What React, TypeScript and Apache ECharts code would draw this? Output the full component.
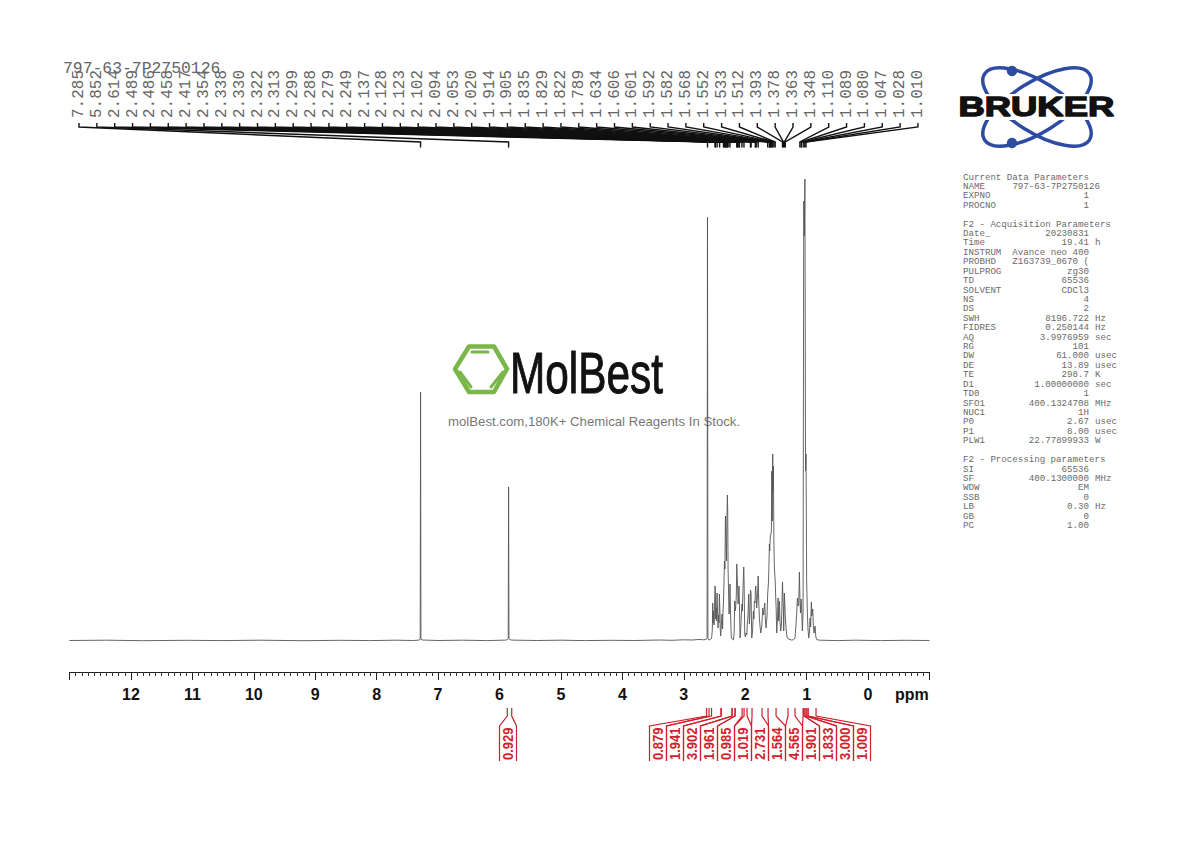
import React, { useEffect, useRef } from "react";
import * as echarts from "echarts";

const sampleName = "797-63-7P2750126";

const baselineLeft: number[][] = [[13, 0.5], [12.4, 0.8], [11.8, 0.3], [11.1, 0.7], [10.5, 0.4], [9.9, 0.8], [9.2, 0.3], [8.6, 0.7], [8.1, 0.4], [7.7, 0.8], [7.4, 0.5]];
const solventPeak: number[][] = [[7.33, 0.8], [7.3, 1.1], [7.291, 2], [7.285, 249], [7.279, 2], [7.26, 1], [7.0, 0.5], [6.6, 0.8], [6.2, 0.4], [5.9, 0.9]];
const olefinPeak: number[][] = [[5.868, 1.5], [5.858, 2.5], [5.852, 154], [5.846, 2.5], [5.835, 1.5], [5.8, 0.9], [5.4, 0.5], [5, 0.8], [4.6, 0.4], [4.2, 0.7], [3.8, 0.5], [3.4, 1], [3.2, 0.7], [3, 1.2], [2.85, 1], [2.75, 1.6], [2.68, 1.2]];
const sharpPeak: number[][] = [[2.64, 1.5], [2.621, 2.5], [2.614, 424], [2.607, 2.5], [2.59, 1]];
const multipletA: number[][] = [[2.583, 1], [2.565, 1.5], [2.556, 2], [2.545, 4], [2.535, 12], [2.529, 38], [2.522, 18], [2.515, 30], [2.507, 16], [2.5, 34], [2.491, 55], [2.486, 50], [2.48, 22], [2.475, 33], [2.468, 20], [2.458, 48], [2.45, 30], [2.442, 13], [2.435, 26], [2.428, 18], [2.42, 47], [2.41, 25], [2.405, 10], [2.399, 5], [2.39, 14], [2.377, 27], [2.368, 12], [2.362, 30], [2.355, 37], [2.345, 60], [2.338, 80], [2.33, 72], [2.322, 125], [2.313, 100], [2.306, 80], [2.299, 118], [2.29, 146], [2.285, 130], [2.279, 73], [2.27, 45], [2.263, 27], [2.255, 38], [2.247, 57], [2.24, 30], [2.23, 10], [2.225, 3], [2.21, 2], [2.192, 1]];
const multipletB: number[][] = [[2.18, 8], [2.171, 40], [2.163, 30], [2.155, 34], [2.145, 45], [2.137, 77], [2.128, 60], [2.123, 52], [2.117, 37], [2.108, 42], [2.102, 55], [2.094, 35], [2.084, 3], [2.075, 10], [2.062, 27], [2.053, 37], [2.046, 30], [2.035, 55], [2.024, 74], [2.018, 60], [2.008, 7], [1.997, 4], [1.986, 8], [1.975, 6], [1.965, 18], [1.955, 25], [1.943, 47], [1.932, 17], [1.922, 30], [1.914, 51], [1.905, 48], [1.894, 3], [1.88, 10], [1.867, 30], [1.858, 22], [1.851, 40], [1.84, 38], [1.835, 50], [1.829, 55], [1.822, 48], [1.813, 33], [1.8, 45], [1.789, 65], [1.78, 40], [1.769, 23], [1.758, 14], [1.747, 8], [1.73, 15], [1.715, 33], [1.7, 26], [1.682, 38], [1.672, 22], [1.661, 13], [1.645, 25]];
const multipletC: number[][] = [[1.634, 47], [1.62, 60], [1.606, 97], [1.601, 90], [1.592, 104], [1.582, 107], [1.574, 110], [1.568, 170], [1.56, 120], [1.552, 187], [1.548, 150], [1.541, 175], [1.533, 100], [1.525, 73], [1.512, 60], [1.503, 43], [1.495, 30], [1.487, 8], [1.475, 22], [1.465, 43], [1.455, 20], [1.444, 40], [1.432, 18], [1.422, 10], [1.41, 16], [1.393, 59], [1.385, 40], [1.378, 30], [1.373, 10], [1.363, 48], [1.357, 40], [1.348, 25], [1.335, 13], [1.32, 4], [1.3, 2], [1.25, 1], [1.216, 1.2]];
const multipletD: number[][] = [[1.19, 3], [1.172, 17], [1.16, 30], [1.15, 43], [1.14, 35], [1.129, 36], [1.118, 69], [1.11, 45], [1.1, 28], [1.089, 42], [1.08, 30], [1.069, 10], [1.058, 30], [1.047, 440], [1.038, 405], [1.028, 462], [1.018, 170], [1.01, 187], [1, 60], [0.988, 28], [0.978, 12], [0.966, 3], [0.955, 8], [0.944, 23], [0.935, 14], [0.923, 39], [0.915, 25], [0.901, 32], [0.89, 14], [0.879, 8], [0.87, 12], [0.863, 15], [0.85, 4], [0.836, 1.5], [0.81, 1]];
const baselineRight: number[][] = [[0.78, 0.8], [0.5, 0.4], [0.2, 0.8], [-0.2, 0.4], [-0.6, 0.7], [-1, 0.5]];

const peakList = ["7.285", "5.852", "2.614", "2.489", "2.486", "2.458", "2.417", "2.354", "2.338", "2.330", "2.322", "2.313", "2.299", "2.288", "2.279", "2.249", "2.137", "2.128", "2.123", "2.102", "2.094", "2.053", "2.020", "1.914", "1.905", "1.835", "1.829", "1.822", "1.789", "1.634", "1.606", "1.601", "1.592", "1.582", "1.568", "1.552", "1.533", "1.512", "1.393", "1.378", "1.363", "1.348", "1.110", "1.089", "1.080", "1.047", "1.028", "1.010"];

const integralLabels = ["0.879", "1.941", "3.902", "1.961", "0.985", "1.019", "2.731", "1.564", "4.565", "1.901", "1.833", "3.000", "1.009"];
const integralRanges: number[][] = [[2.629, 2.589], [2.548, 2.393], [2.393, 2.214], [2.214, 2.165], [2.165, 2.051], [2.019, 1.97], [1.889, 1.726], [1.628, 1.498], [1.303, 1.189], [1.058, 1.042], [1.042, 1.009], [1.009, 0.977], [0.977, 0.847]];
const isolatedIntegralLabel = "0.929";
const isolatedIntegralRange = [5.873, 5.801];

const paramLines: string[][] = [
  ["Current Data Parameters"],
  ["NAME", sampleName, "", "1100"],
  ["EXPNO", "1"],
  ["PROCNO", "1"],
  [],
  ["F2 - Acquisition Parameters"],
  ["Date_", "20230831"],
  ["Time", "19.41", "h"],
  ["INSTRUM", "Avance neo 400"],
  ["PROBHD", "Z163739_0670 ("],
  ["PULPROG", "zg30"],
  ["TD", "65536"],
  ["SOLVENT", "CDCl3"],
  ["NS", "4"],
  ["DS", "2"],
  ["SWH", "8196.722", "Hz"],
  ["FIDRES", "0.250144", "Hz"],
  ["AQ", "3.9976959", "sec"],
  ["RG", "101"],
  ["DW", "61.000", "usec"],
  ["DE", "13.89", "usec"],
  ["TE", "298.7", "K"],
  ["D1", "1.00000000", "sec"],
  ["TD0", "1"],
  ["SFO1", "400.1324708", "MHz"],
  ["NUC1", "1H"],
  ["P0", "2.67", "usec"],
  ["P1", "8.00", "usec"],
  ["PLW1", "22.77899933", "W"],
  [],
  ["F2 - Processing parameters"],
  ["SI", "65536"],
  ["SF", "400.1300000", "MHz"],
  ["WDW", "EM"],
  ["SSB", "0"],
  ["LB", "0.30", "Hz"],
  ["GB", "0"],
  ["PC", "1.00"],
];

const MONO = "'Liberation Mono', monospace";
const SANS = "'Liberation Sans', Arial, sans-serif";
const RED = "#cf1f2a";
const GRID_TOP = 179;
const GRID_BOTTOM = 641;

function paramGraphics() {
  const out: any[] = [];
  const grey = "#6a6a6a";
  const base = { fontFamily: MONO, fontSize: 9.13, fill: grey, textVerticalAlign: "middle", verticalAlign: "middle" };
  paramLines.forEach((row, i) => {
    if (!row.length) return;
    const y = 177 + i * 9.42;
    out.push({ type: "text", x: 963, y, silent: true, style: { ...base, text: row[0], textAlign: "left", align: "left" } });
    if (row[1]) {
      const right = row[3] ? Number(row[3]) : 1089;
      out.push({ type: "text", x: right, y, silent: true, style: { ...base, text: row[1], textAlign: "right", align: "right" } });
    }
    if (row[2]) {
      out.push({ type: "text", x: 1095, y, silent: true, style: { ...base, text: row[2], textAlign: "left", align: "left" } });
    }
  });
  return out;
}

function logoGraphics() {
  const blue = "#2d4ba0";
  const green = "#7ab648";
  return [
    { type: "ellipse", x: 1037, y: 107, rotation: -0.56, silent: true, shape: { cx: 0, cy: 0, rx: 62, ry: 25 }, style: { fill: "none", stroke: blue, lineWidth: 3.5 } },
    { type: "ellipse", x: 1037, y: 107, rotation: 0.56, silent: true, shape: { cx: 0, cy: 0, rx: 62, ry: 25 }, style: { fill: "none", stroke: blue, lineWidth: 3.5 } },
    { type: "rect", silent: true, shape: { x: 955, y: 94, width: 163, height: 26 }, style: { fill: "#fff" } },
    { type: "circle", silent: true, shape: { cx: 1012, cy: 71, r: 5.2 }, style: { fill: blue } },
    { type: "circle", silent: true, shape: { cx: 1012, cy: 143, r: 5.2 }, style: { fill: blue } },
    { type: "text", x: 958.5, y: 107, scaleX: 1.3, scaleY: 1, silent: true, style: { text: "BRUKER", fontFamily: SANS, fontWeight: "bold", fontSize: 28, fill: "#111", stroke: "#111", lineWidth: 1.4, textAlign: "left", align: "left", textVerticalAlign: "middle", verticalAlign: "middle" } },
    { type: "polygon", silent: true, shape: { points: [[455, 369], [469, 346.5], [494, 346.5], [507, 369], [494, 392], [469, 392]] }, style: { fill: "none", stroke: green, lineWidth: 4.5, lineJoin: "round" } },
    { type: "line", silent: true, shape: { x1: 472, y1: 352, x2: 488, y2: 352 }, style: { stroke: green, lineWidth: 3, lineCap: "round" } },
    { type: "line", silent: true, shape: { x1: 460, y1: 372, x2: 471, y2: 387 }, style: { stroke: green, lineWidth: 3, lineCap: "round" } },
    { type: "line", silent: true, shape: { x1: 491, y1: 387, x2: 503, y2: 372 }, style: { stroke: green, lineWidth: 3, lineCap: "round" } },
    { type: "text", x: 510, y: 373, scaleX: 0.73, scaleY: 1, silent: true, style: { text: "MolBest", fontFamily: SANS, fontSize: 58, fill: "#111", stroke: "#111", lineWidth: 1, textAlign: "left", align: "left", textVerticalAlign: "middle", verticalAlign: "middle" } },
    { type: "text", x: 448, y: 421, silent: true, style: { text: "molBest.com,180K+ Chemical Reagents In Stock.", fontFamily: SANS, fontSize: 13.2, fill: "#777", textAlign: "left", align: "left", textVerticalAlign: "middle", verticalAlign: "middle" } },
    { type: "text", x: 895, y: 694, silent: true, style: { text: "ppm", fontFamily: SANS, fontWeight: "bold", fontSize: 16, fill: "#111", textAlign: "left", align: "left", textVerticalAlign: "middle", verticalAlign: "middle" } },
    { type: "text", x: 63, y: 68, silent: true, style: { text: sampleName, fontFamily: MONO, fontSize: 16.4, fill: "#666", textAlign: "left", align: "left", textVerticalAlign: "middle", verticalAlign: "middle" } },
  ];
}

function renderPeakLabel(params: any, api: any) {
  const i = params.dataIndex;
  const px = api.coord([api.value(0), 0])[0];
  const lx = 79 + i * 17.85;
  return {
    type: "group",
    children: [
      { type: "polyline", silent: true, shape: { points: [[lx, 123], [lx, 127], [px, 142], [px, 147.5]] }, style: { fill: "none", stroke: "#111", lineWidth: 1.4 } },
      { type: "text", x: lx, y: 118, rotation: Math.PI / 2, silent: true, style: { text: peakList[i], fontFamily: MONO, fontSize: 16, fill: "#666", textAlign: "left", align: "left", textVerticalAlign: "middle", verticalAlign: "middle" } },
    ],
  };
}

function integralShape(a: number, b: number, center: number, label: string) {
  const left = center - 8.5;
  const right = center + 8.5;
  const st = { fill: "none", stroke: RED, lineWidth: 1.2 };
  return {
    type: "group",
    children: [
      { type: "polyline", silent: true, shape: { points: [[a, 708], [a, 716], [left, 726], [left, 761]] }, style: st },
      { type: "polyline", silent: true, shape: { points: [[b, 708], [b, 716], [right, 726], [right, 761]] }, style: st },
      { type: "text", x: center, y: 760, rotation: Math.PI / 2, scaleX: 0.93, silent: true, style: { text: label, fontFamily: SANS, fontWeight: "bold", fontSize: 14, fill: RED, textAlign: "left", align: "left", textVerticalAlign: "middle", verticalAlign: "middle" } },
    ],
  };
}

function renderIntegral(params: any, api: any) {
  const i = params.dataIndex;
  const a = api.coord([api.value(0), 0])[0];
  const b = api.coord([api.value(1), 0])[0];
  return integralShape(a, b, 658 + i * 17, integralLabels[i]);
}

function renderIsolated(_params: any, api: any) {
  const a = api.coord([api.value(0), 0])[0];
  const b = api.coord([api.value(1), 0])[0];
  return integralShape(a, b, 508, isolatedIntegralLabel);
}

export default function App() {
  const ref = useRef<HTMLDivElement>(null);
  useEffect(() => {
    if (!ref.current) return;
    const chart = echarts.init(ref.current, undefined, { renderer: "svg" });
    const spectrum = [...baselineLeft, ...solventPeak, ...olefinPeak, ...sharpPeak, ...multipletA, ...multipletB, ...multipletC, ...multipletD, ...baselineRight];
    chart.setOption({
      animation: false,
      backgroundColor: "#fff",
      grid: { left: 69.5, width: 860, top: GRID_TOP, height: GRID_BOTTOM - GRID_TOP },
      xAxis: {
        type: "value",
        inverse: true,
        min: -1,
        max: 13,
        interval: 1,
        offset: 31,
        axisLine: { show: true, onZero: false, lineStyle: { color: "#222", width: 1 } },
        axisTick: { show: true, length: 8, inside: false, lineStyle: { color: "#222", width: 1 } },
        minorTick: { show: true, splitNumber: 10, length: 4, lineStyle: { color: "#333", width: 1 } },
        splitLine: { show: false },
        axisLabel: {
          margin: 14,
          fontFamily: SANS,
          fontWeight: "bold",
          fontSize: 16,
          color: "#111",
          formatter: (v: number) => (v < 0 || v > 12 ? "" : String(v)),
        },
      },
      yAxis: { type: "value", min: 0, max: 462, show: false },
      graphic: { elements: [...logoGraphics(), ...paramGraphics()] },
      series: [
        {
          type: "line",
          data: spectrum,
          showSymbol: false,
          clip: false,
          lineStyle: { color: "#555", width: 0.9 },
          silent: true,
        },
        {
          type: "custom",
          coordinateSystem: "cartesian2d",
          data: peakList.map((p) => [Number(p), 0]),
          renderItem: renderPeakLabel,
          encode: { x: 0, y: 1 },
          silent: true,
        },
        {
          type: "custom",
          coordinateSystem: "cartesian2d",
          data: integralRanges,
          renderItem: renderIntegral,
          encode: { x: [0, 1] },
          silent: true,
        },
        {
          type: "custom",
          coordinateSystem: "cartesian2d",
          data: [isolatedIntegralRange],
          renderItem: renderIsolated,
          encode: { x: [0, 1] },
          silent: true,
        },
      ],
    });
    return () => chart.dispose();
  }, []);
  return <div ref={ref} style={{ position: "absolute", left: 0, top: 0, width: 1190, height: 842 }} />;
}
